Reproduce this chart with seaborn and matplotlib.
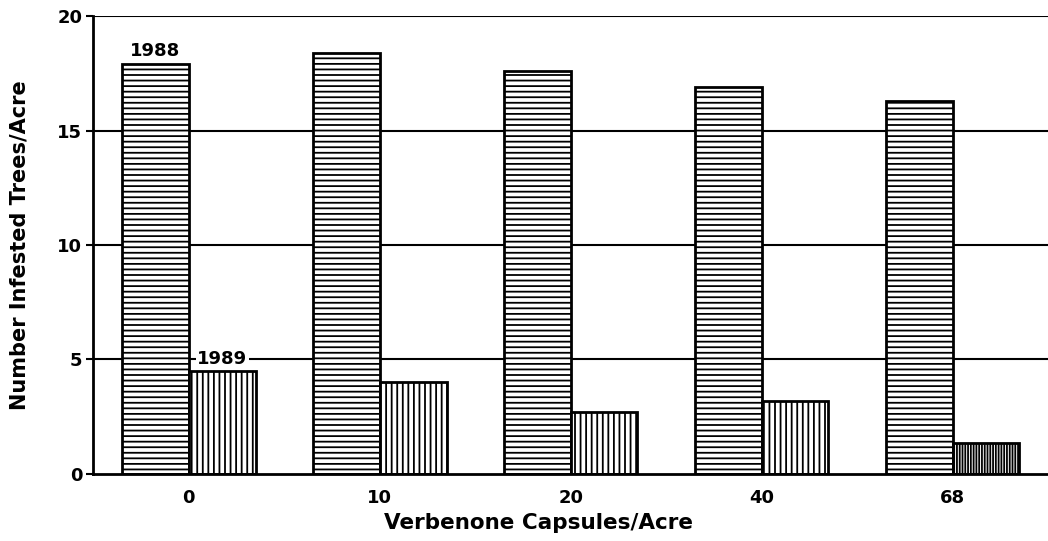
import pandas as pd
import numpy as np
import matplotlib
matplotlib.use('Agg')
import matplotlib.pyplot as plt
import seaborn as sns

# Data
capsules = ['0', '10', '20', '40', '68']
trees_1988 = [17.9, 18.4, 17.6, 16.9, 16.3]
trees_1989 = [4.5, 4.0, 2.7, 3.2, 1.35]

df = pd.DataFrame({
    'capsules': capsules * 2,
    'year': ['1988'] * 5 + ['1989'] * 5,
    'trees': trees_1988 + trees_1989,
})

sns.set_style('white')
plt.rcParams['font.family'] = ['DejaVu Sans']
plt.rcParams['font.weight'] = 'bold'
plt.rcParams['text.color'] = 'black'
plt.rcParams['axes.labelcolor'] = 'black'
plt.rcParams['xtick.color'] = 'black'
plt.rcParams['ytick.color'] = 'black'
plt.rcParams['hatch.linewidth'] = 1.3

fig = plt.figure(figsize=(10.48, 5.41), dpi=100)
ax = fig.add_axes([0.089, 0.124, 0.911, 0.846])

# horizontal rules behind the bars
for yv in [5, 10, 15, 20]:
    ax.axhline(yv, color='black', lw=1.5, zorder=0)

sns.barplot(data=df, x='capsules', y='trees', hue='year', order=capsules,
            hue_order=['1988', '1989'], width=0.7, legend=False,
            color='white', saturation=1, ax=ax, zorder=2)

n = len(capsules)
for i, p in enumerate(ax.patches):
    p.set_facecolor('white')
    p.set_edgecolor('black')
    p.set_linewidth(2)
    if i < n:
        p.set_hatch('---')
    else:
        p.set_hatch('||||||' if i == 2 * n - 1 else '|||')

ax.set_ylim(0, 20)
ax.set_xlim(-0.5, n - 0.5)
ax.set_yticks([0, 5, 10, 15, 20])
ax.tick_params(axis='y', length=5, width=1.5, direction='out',
               labelsize=13, pad=3, left=True)
ax.tick_params(axis='x', length=0, labelsize=13, pad=11)
for lbl in ax.get_xticklabels() + ax.get_yticklabels():
    lbl.set_fontweight('bold')

for s in ['top', 'right']:
    ax.spines[s].set_visible(False)
for s in ['left', 'bottom']:
    ax.spines[s].set_linewidth(2)
    ax.spines[s].set_color('black')

ax.set_xlabel('Verbenone Capsules/Acre', fontsize=15.5, fontweight='bold')
ax.xaxis.set_label_coords(0.466, -0.085)
ax.set_ylabel('Number Infested Trees/Acre', fontsize=15, fontweight='bold', labelpad=20)

# series annotations over the first group
ax.text(-0.175, trees_1988[0] + 0.2, '1988', ha='center', va='bottom',
        fontsize=13, fontweight='bold')
ax.text(0.175, 5, '1989', ha='center', va='center', fontsize=13,
        fontweight='bold', zorder=3,
        bbox=dict(facecolor='white', edgecolor='none', pad=1))

fig.savefig('out.png', dpi=100)
